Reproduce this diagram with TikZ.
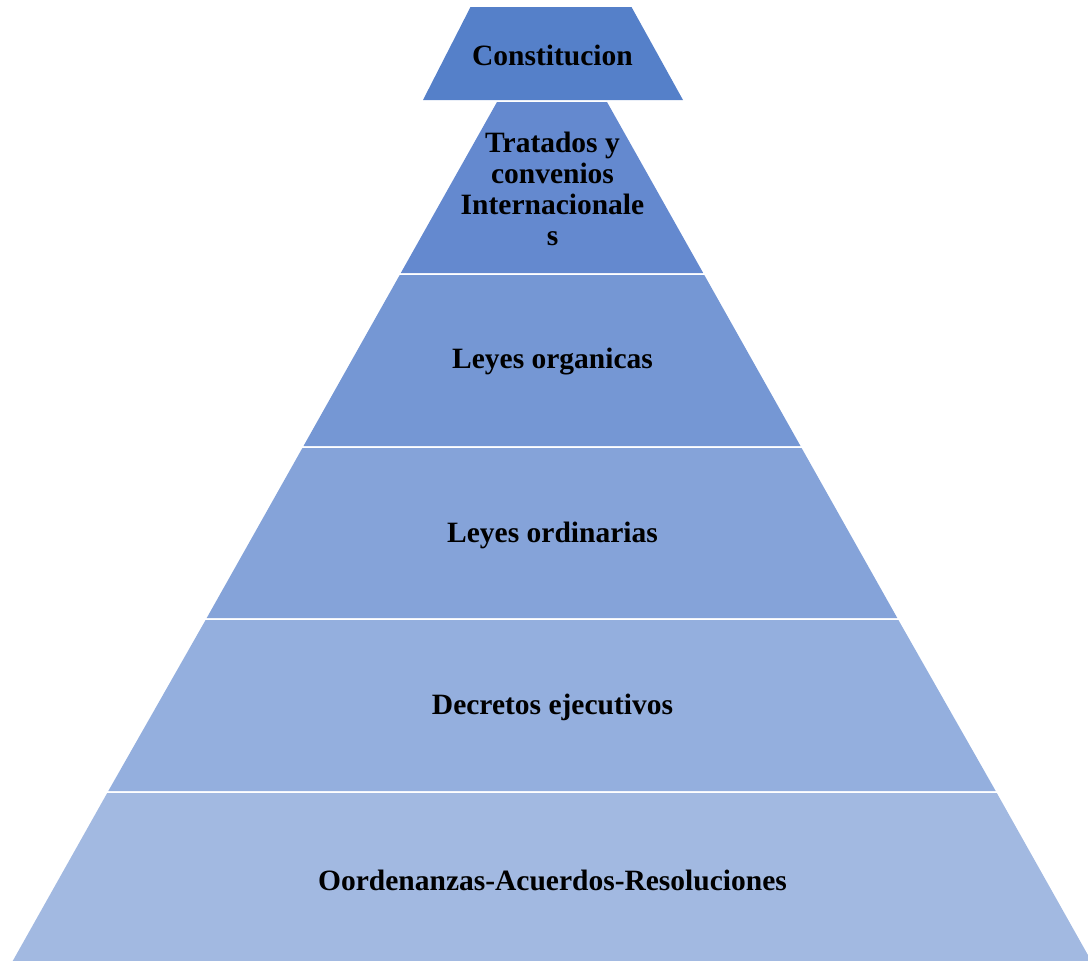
\documentclass[tikz,border=0pt]{standalone}
\usepackage{fontspec}
\setmainfont{Liberation Serif}
\definecolor{c1}{HTML}{5580C9}
\definecolor{c2}{HTML}{6489CF}
\definecolor{c3}{HTML}{7597D4}
\definecolor{c4}{HTML}{85A3D9}
\definecolor{c5}{HTML}{94AFDE}
\definecolor{c6}{HTML}{A2B9E1}
\tikzset{
  lbl/.style={font=\fontsize{29.5}{31}\selectfont\bfseries, text=black, align=center, inner sep=0pt},
}
\begin{document}
\begin{tikzpicture}[x=1pt,y=-1pt]
\useasboundingbox (0,0) rectangle (1088,961);
% hw(y) = 55 + 0.5625*(y-102), centre 552
\fill[c1] (470.5,7) -- (631.5,7) -- (683,100) -- (423,100) -- cycle;
\fill[c2] (497,102) -- (607,102) -- (703.2,273) -- (400.8,273) -- cycle;
\fill[c3] (399.7,275) -- (704.3,275) -- (800.5,446) -- (303.5,446) -- cycle;
\fill[c4] (302.4,448) -- (801.6,448) -- (897.3,618) -- (206.7,618) -- cycle;
\fill[c5] (205.6,620) -- (898.4,620) -- (995.7,791) -- (108.3,791) -- cycle;
\fill[c6] (107.2,793) -- (996.8,793) -- (1091.3,961) -- (12.7,961) -- cycle;
\node[lbl] (n1) at (552.5,55) {Constitucion};
\node[lbl] (n2) at (552.5,189) {Tratados y\\convenios\\Internacionale\\s};
\node[lbl] (n3) at (552.5,362) {Leyes organicas};
\node[lbl] (n4) at (552.5,535) {Leyes ordinarias};
\node[lbl] (n5) at (552.5,707) {Decretos ejecutivos};
\node[lbl] (n6) at (552.5,880) {Oordenanzas-Acuerdos-Resoluciones};
\end{tikzpicture}
\end{document}
